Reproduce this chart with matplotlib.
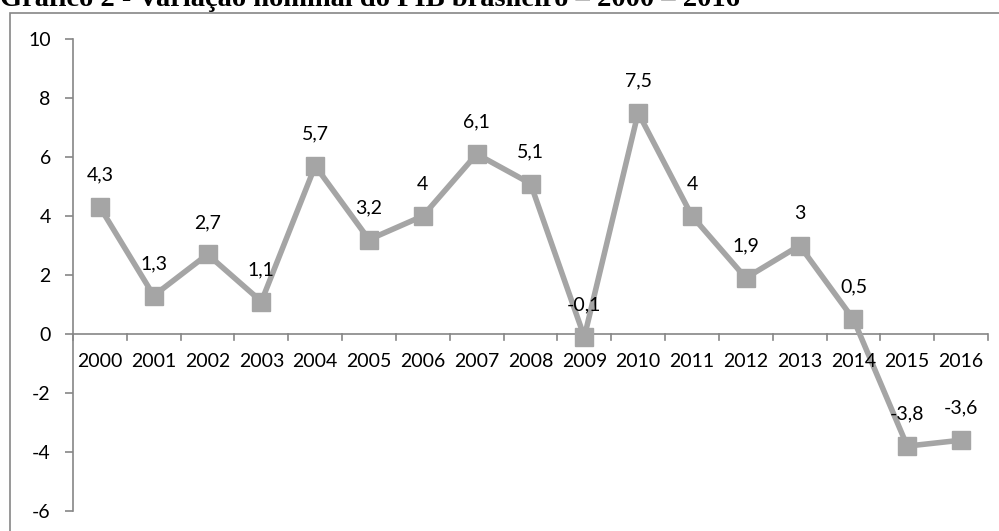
import numpy as np
import matplotlib.pyplot as plt
from matplotlib.patches import Rectangle

# dados do gráfico
anos = ['2000', '2001', '2002', '2003', '2004', '2005', '2006', '2007', '2008',
        '2009', '2010', '2011', '2012', '2013', '2014', '2015', '2016']
pib = [4.3, 1.3, 2.7, 1.1, 5.7, 3.2, 4.0, 6.1, 5.1,
       -0.1, 7.5, 4.0, 1.9, 3.0, 0.5, -3.8, -3.6]
rotulos = ['4,3', '1,3', '2,7', '1,1', '5,7', '3,2', '4', '6,1', '5,1',
           '-0,1', '7,5', '4', '1,9', '3', '0,5', '-3,8', '-3,6']
y_ticks = [-6, -4, -2, 0, 2, 4, 6, 8, 10]

titulo = 'Gráfico 2 - Variação nominal do PIB brasileiro – 2000 – 2016'

W, H = 999, 531
fig = plt.figure(figsize=(W / 100, H / 100), dpi=100)
plt.rcParams['font.family'] = ['Lato', 'DejaVu Sans']

cinza = '#A5A5A5'
eixo = '#868686'

# moldura do gráfico (corta à direita e embaixo, como no original)
fig.patches.append(Rectangle((9.5 / W, -0.1), 1.1, (H - 12.5) / H + 0.1, transform=fig.transFigure,
                             fill=False, edgecolor=eixo, linewidth=1.2))

# título (aparece cortado no topo, como na imagem original)
fig.text(0, 1 - 6 / H, titulo, fontsize=20.5, fontweight='bold', family='Liberation Serif',
         ha='left', va='baseline')

ax = fig.add_axes([73 / W, 1 - 511 / H, (988 - 73) / W, (511 - 39) / H])
x = np.arange(len(anos))
ax.plot(x, pib, color=cinza, linewidth=4, marker='s', markersize=13,
        markerfacecolor=cinza, markeredgecolor=cinza, zorder=3)

for xi, yi, lab in zip(x, pib, rotulos):
    ax.annotate(lab, (xi, yi), xytext=(0, 23), textcoords='offset points',
                ha='center', va='center', fontsize=14, color='black', zorder=4)

ax.set_xlim(-0.5, len(anos) - 0.5)
ax.set_ylim(-6, 10)
ax.set_yticks(y_ticks)
ax.set_yticklabels([str(v) for v in y_ticks], fontsize=14)
ax.tick_params(axis='y', direction='out', length=6, width=1.2, color=eixo, pad=10)

for s in ['top', 'right', 'bottom']:
    ax.spines[s].set_visible(False)
ax.spines['left'].set_color(eixo)
ax.spines['left'].set_linewidth(1.2)

# eixo x na linha do zero
ax.axhline(0, color=eixo, linewidth=1.2, zorder=2)
ax.set_xticks([])
for b in np.arange(-0.5, len(anos), 1.0):
    ax.plot([b, b], [0, -0.2], color=eixo, linewidth=1.2, clip_on=False, zorder=2)
for xi, a in zip(x, anos):
    ax.text(xi, -0.93, a, ha='center', va='center', fontsize=14, color='black')

fig.savefig('out.png', dpi=100)
